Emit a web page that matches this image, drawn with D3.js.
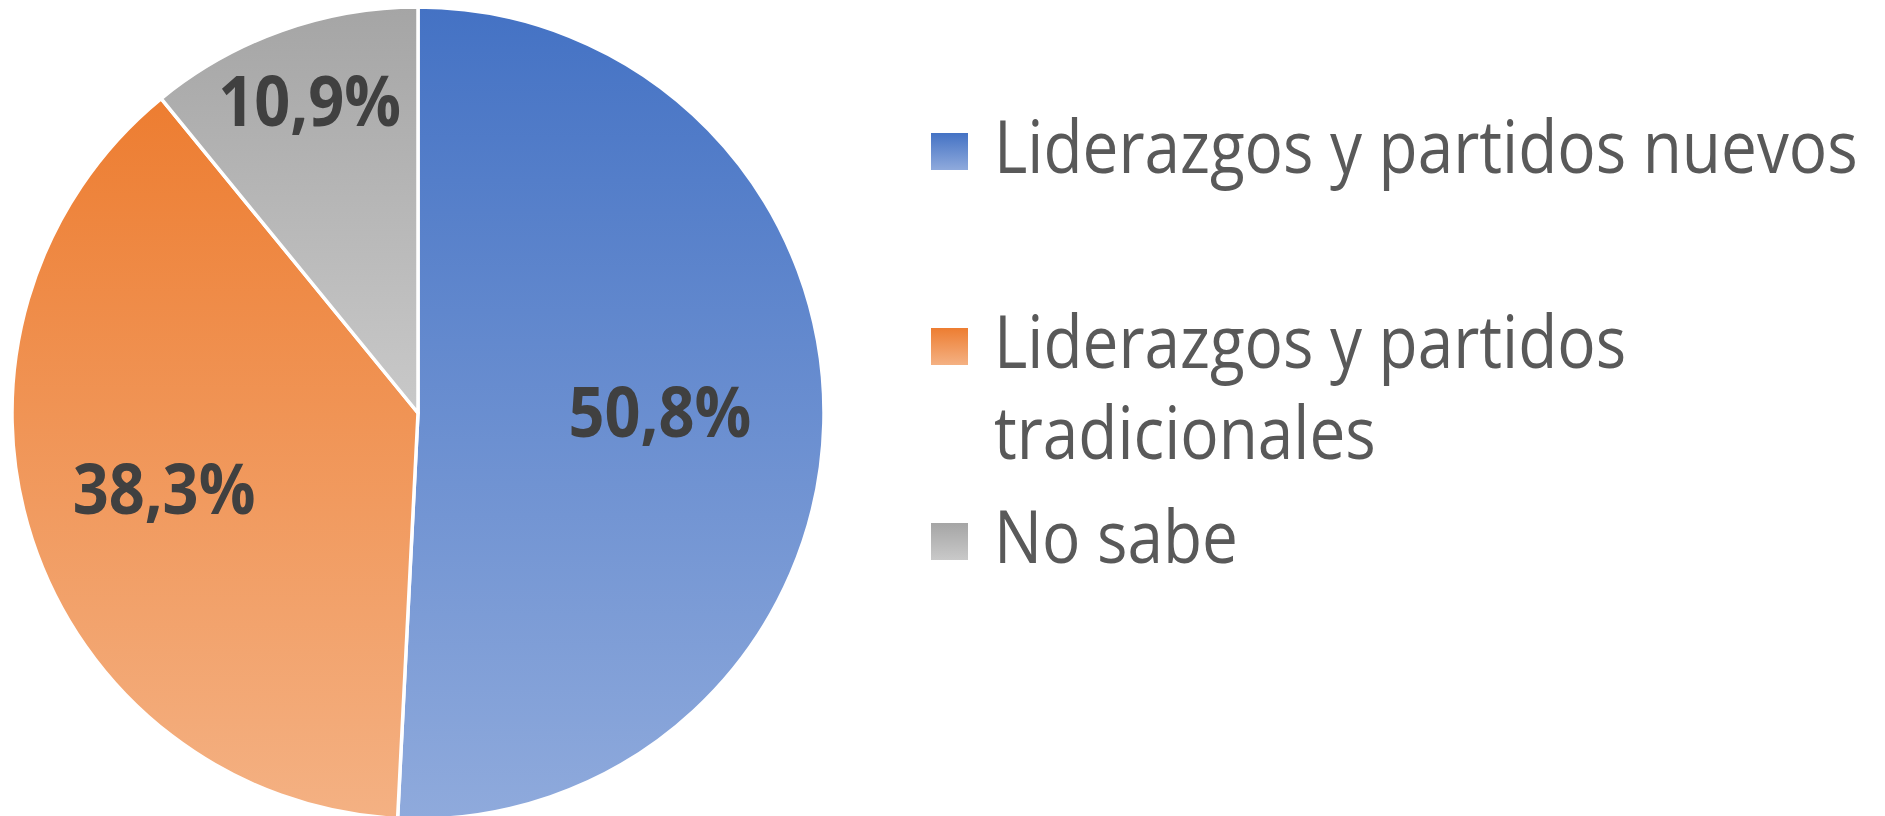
<!DOCTYPE html>
<html>
<head>
<meta charset="utf-8">
<script src="https://cdn.jsdelivr.net/npm/d3@7"></script>
<style>
  body { margin: 0; background: #ffffff; }
  svg { display: block; }
</style>
</head>
<body>
<div id="chart"></div>
<script>
// data
var categories = ['Liderazgos y partidos nuevos', 'Liderazgos y partidos tradicionales', 'No sabe'];
var values = [50.8, 38.3, 10.9];

// gradient colours per slice (top, bottom)
var topColors = ['#4472C4', '#ED7D31', '#A5A5A5'];
var bottomColors = ['#8FAADC', '#F4B183', '#C9C9C9'];

// chart size
var width = 1885, height = 816;
var cx = 418, cy = 413, radius = 406;

// calibri is narrow, squeeze the substitute font a bit
var legendSqueeze = 0.875, labelSqueeze = 0.9;
var legendFont = 73;

var fmt = d3.formatLocale({decimal: ',', thousands: '.', grouping: [3], currency: ['', '']}).format('.1f');

var svg = d3.select('#chart')
  .append('svg')
    .attr('width', width)
    .attr('height', height);

var defs = svg.append('defs');

// one vertical gradient per category, spans each shape's own box
var grads = defs.selectAll('linearGradient')
  .data(categories)
  .enter()
  .append('linearGradient')
    .attr('id', function(d, i) { return 'grad' + i; })
    .attr('x1', 0).attr('y1', 0)
    .attr('x2', 0).attr('y2', 1);
grads.append('stop').attr('offset', '0%').attr('stop-color', function(d, i) { return topColors[i]; });
grads.append('stop').attr('offset', '100%').attr('stop-color', function(d, i) { return bottomColors[i]; });

// _______________
// Pie
// _______________

var pie = d3.pie().sort(null).value(function(d) { return d; });
var arcs = pie(values);

var arc = d3.arc().innerRadius(0).outerRadius(radius);

var g = svg.append('g')
  .attr('transform', 'translate(' + cx + ',' + cy + ')');

g.selectAll('path')
  .data(arcs)
  .enter()
  .append('path')
    .attr('d', arc)
    .attr('fill', function(d, i) { return 'url(#grad' + i + ')'; })
    .attr('stroke', '#ffffff')
    .attr('stroke-width', 3.5)
    .attr('stroke-linejoin', 'round');

// labels, thin slices get pushed further out (like excel best fit)
g.selectAll('text.lbl')
  .data(arcs)
  .enter()
  .append('text')
    .attr('class', 'lbl')
    .attr('transform', function(d) {
      var span = d.endAngle - d.startAngle;
      var r = radius * (0.6 + 0.25 * (1 - span / Math.PI));
      var a = (d.startAngle + d.endAngle) / 2;
      return 'translate(' + (Math.sin(a) * r) + ',' + (-Math.cos(a) * r) + ') scale(' + labelSqueeze + ',1)';
    })
    .attr('text-anchor', 'middle')
    .attr('dy', '0.25em')
    .style('font-family', '"Open Sans", sans-serif')
    .style('font-weight', 'bold')
    .style('font-size', '70px')
    .attr('fill', '#404040')
    .text(function(d) { return fmt(d.data) + '%'; });

// _______________
// Legend
// _______________

var legendX = 931, boxSize = 37, textX = 994;
var legendMaxW = width - textX - 12;
var lineHeight = 91;

var ly = d3.scalePoint()
  .domain(categories)
  .range([133, 523]);

var items = svg.selectAll('g.legend')
  .data(categories)
  .enter()
  .append('g')
    .attr('class', 'legend')
    .attr('transform', function(d) { return 'translate(0,' + ly(d) + ')'; });

items.append('rect')
  .attr('x', legendX)
  .attr('y', 0)
  .attr('width', boxSize)
  .attr('height', boxSize)
  .attr('fill', function(d, i) { return 'url(#grad' + i + ')'; });

items.each(function(d) {
  var item = d3.select(this);
  var words = d.split(' ');
  var lines = [];
  var cur = '';
  var probe = item.append('text')
    .style('font-family', '"Open Sans", sans-serif')
    .style('font-size', legendFont + 'px');
  words.forEach(function(w) {
    var test = cur ? cur + ' ' + w : w;
    probe.text(test);
    if (probe.node().getComputedTextLength() * legendSqueeze > legendMaxW && cur) {
      lines.push(cur);
      cur = w;
    } else {
      cur = test;
    }
  });
  lines.push(cur);
  probe.remove();

  // squeezed horizontally with a transform so the real box is narrow too
  lines.forEach(function(line, k) {
    item.append('text')
      .attr('transform', 'translate(' + textX + ',' + (40 + k * lineHeight) + ') scale(' + legendSqueeze + ',1)')
      .style('font-family', '"Open Sans", sans-serif')
      .style('font-size', legendFont + 'px')
      .attr('fill', '#595959')
      .text(line);
  });
});
</script>
</body>
</html>
